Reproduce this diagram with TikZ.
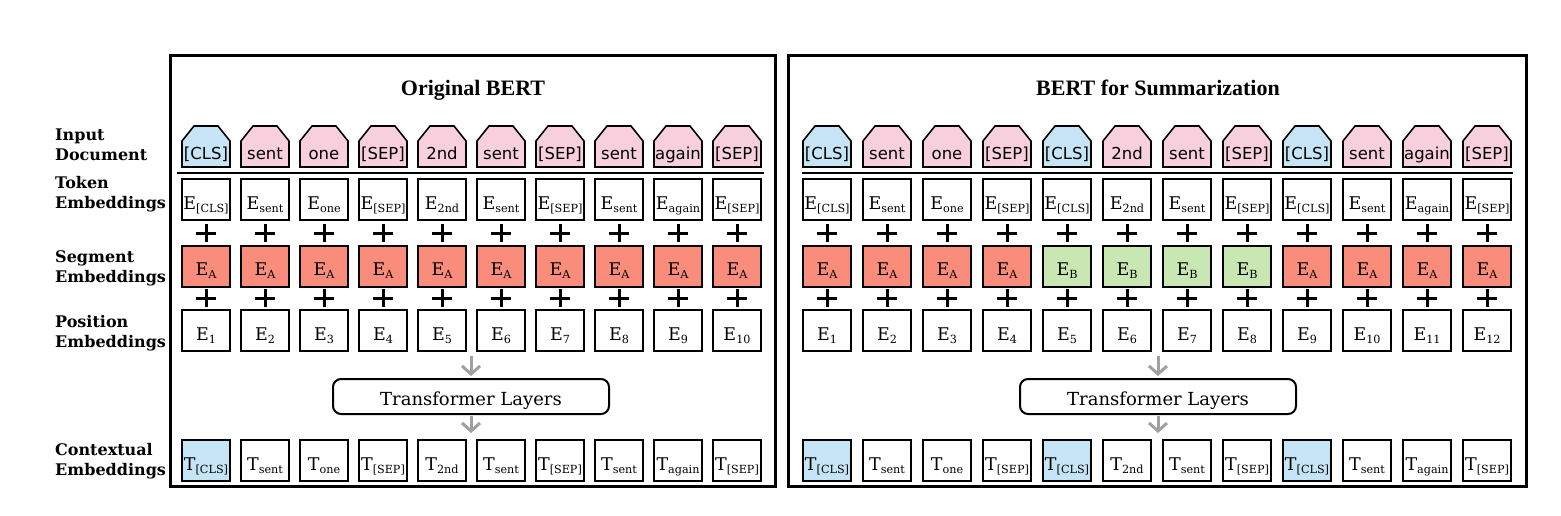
\documentclass[tikz,border=0pt]{standalone}
\usepackage{fontspec}
\setmainfont{DejaVu Serif}
\newfontfamily\titlefont{Liberation Serif}
\newfontfamily\sansfont{DejaVu Sans}
\usetikzlibrary{arrows.meta}
\definecolor{clsblue}{RGB}{197,228,246}
\definecolor{tokpink}{RGB}{248,208,221}
\definecolor{segred}{RGB}{250,140,124}
\definecolor{seggreen}{RGB}{200,231,178}
\definecolor{arrgray}{RGB}{160,160,160}
\newcommand\emb[2]{#1\raisebox{-3pt}{\fontsize{11.2}{12}\selectfont #2}}
\tikzset{
  frame/.style={draw, line width=3pt},
  sepline/.style={draw, line width=2.5pt},
  house/.style={draw, line width=1.6pt, line join=miter},
  housetext/.style={font=\sansfont\fontsize{16.5}{18}\selectfont, inner sep=0pt, anchor=base},
  ebox/.style={draw, line width=2pt, minimum width=48pt, minimum height=41pt, inner sep=0pt,
    text height=19pt, text depth=0pt, font=\fontsize{17.5}{18}\selectfont},
  tbox/.style={draw, line width=2pt, rounded corners=8pt, minimum width=276pt, minimum height=35pt,
    inner sep=0pt, text height=17pt, text depth=0pt, font=\fontsize{18}{20}\selectfont},
  plus/.style={draw, line width=3pt},
  garrow/.style={draw=arrgray, line width=3pt, -{Straight Barb[length=8pt,width=18pt]}},
  lab/.style={anchor=base west, inner sep=0pt, font=\fontsize{16}{20}\selectfont\bfseries},
  ttl/.style={anchor=base, inner sep=0pt, font=\titlefont\fontsize{22}{24}\selectfont\bfseries},
}
\begin{document}
\begin{tikzpicture}[x=1pt,y=-1pt]
\useasboundingbox (0,0) rectangle (1561,515);
% row labels
\node[lab] (la1) at (55,140) {Input};
\node[lab] (la2) at (55,160) {Document};
\node[lab] (lb1) at (55,188) {Token};
\node[lab] (lb2) at (55,208.5) {Embeddings};
\node[lab] (lc1) at (55,262) {Segment};
\node[lab] (lc2) at (55,282) {Embeddings};
\node[lab] (ld1) at (55,327) {Position};
\node[lab] (ld2) at (55,347) {Embeddings};
\node[lab] (le1) at (55,455) {Contextual};
\node[lab] (le2) at (55,475) {Embeddings};
% frames
\draw[frame] (170,55) rectangle (775,486);
\draw[frame] (788,55) rectangle (1526,486);
\node[ttl] (titleL) at (473,95.5) {Original BERT};
\node[ttl] (titleR) at (1158,95.5) {BERT for Summarization};
\draw[sepline] (177,173) -- (764,173);
\draw[sepline] (802,173) -- (1513,173);
% left panel
\foreach \i/\s/\c/\cf in {1/{[CLS]}/clsblue/clsblue, 2/sent/tokpink/white, 3/one/tokpink/white,
  4/{[SEP]}/tokpink/white, 5/2nd/tokpink/white, 6/sent/tokpink/white, 7/{[SEP]}/tokpink/white,
  8/sent/tokpink/white, 9/again/tokpink/white, 10/{[SEP]}/tokpink/white}{
  \pgfmathsetmacro\xc{206+59*(\i-1)}
  \draw[house, fill=\c] (\xc-24,167) -- (\xc-24,141) -- (\xc-12,126) -- (\xc+12,126) -- (\xc+24,141) -- (\xc+24,167) -- cycle;
  \node[housetext] (lh\i) at (\xc,159.5) {\s};
  \node[ebox] (lt\i) at (\xc,199.5) {\emb{E}{\s}};
  \draw[plus] (\xc-10,233) -- (\xc+10,233) (\xc,224) -- (\xc,242);
  \node[ebox, fill=segred] (ls\i) at (\xc,266) {\emb{E}{A}};
  \draw[plus] (\xc-10,298) -- (\xc+10,298) (\xc,289) -- (\xc,307);
  \node[ebox] (lp\i) at (\xc,330.5) {\emb{E}{\i}};
  \node[ebox, fill=\cf] (lc\i) at (\xc,460.5) {\emb{T}{\s}};
}
\node[tbox] (ltr) at (471,396.5) {Transformer Layers};
\draw[garrow, shorten <=4pt, shorten >=2pt] (ltr.north |- lp5.south) -- (ltr.north);
\draw[garrow, shorten <=1pt, shorten >=6pt] (ltr.south) -- (ltr.south |- lc5.north);
% right panel
\foreach \i/\s/\c/\cf/\g/\gc in {1/{[CLS]}/clsblue/clsblue/A/segred, 2/sent/tokpink/white/A/segred,
  3/one/tokpink/white/A/segred, 4/{[SEP]}/tokpink/white/A/segred, 5/{[CLS]}/clsblue/clsblue/B/seggreen,
  6/2nd/tokpink/white/B/seggreen, 7/sent/tokpink/white/B/seggreen, 8/{[SEP]}/tokpink/white/B/seggreen,
  9/{[CLS]}/clsblue/clsblue/A/segred, 10/sent/tokpink/white/A/segred, 11/again/tokpink/white/A/segred,
  12/{[SEP]}/tokpink/white/A/segred}{
  \pgfmathsetmacro\xc{827+60*(\i-1)}
  \draw[house, fill=\c] (\xc-24,167) -- (\xc-24,141) -- (\xc-12,126) -- (\xc+12,126) -- (\xc+24,141) -- (\xc+24,167) -- cycle;
  \node[housetext] (rh\i) at (\xc,159.5) {\s};
  \node[ebox] (rt\i) at (\xc,199.5) {\emb{E}{\s}};
  \draw[plus] (\xc-10,233) -- (\xc+10,233) (\xc,224) -- (\xc,242);
  \node[ebox, fill=\gc] (rs\i) at (\xc,266) {\emb{E}{\g}};
  \draw[plus] (\xc-10,298) -- (\xc+10,298) (\xc,289) -- (\xc,307);
  \node[ebox] (rp\i) at (\xc,330.5) {\emb{E}{\i}};
  \node[ebox, fill=\cf] (rc\i) at (\xc,460.5) {\emb{T}{\s}};
}
\node[tbox] (rtr) at (1158,396.5) {Transformer Layers};
\draw[garrow, shorten <=4pt, shorten >=2pt] (rtr.north |- rp6.south) -- (rtr.north);
\draw[garrow, shorten <=1pt, shorten >=6pt] (rtr.south) -- (rtr.south |- rc6.north);
\end{tikzpicture}
\end{document}
